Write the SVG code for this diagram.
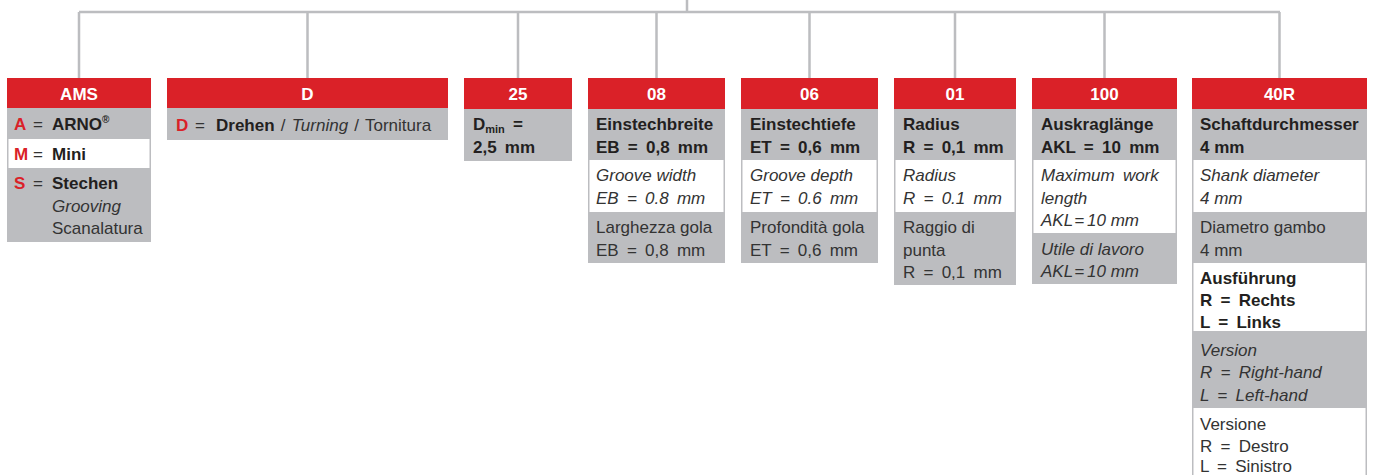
<svg xmlns="http://www.w3.org/2000/svg" width="1375" height="475" viewBox="0 0 1375 475">
<style>
.hd{fill:#da2128}
.gb{fill:#bcbdc0}
.wr{fill:#ffffff}
text{font-family:"Liberation Sans",Arial,sans-serif;font-size:17px;fill:#333333}
.b{font-weight:bold;fill:#231f20}
.i{font-style:italic}
.eq{word-spacing:3.5px}
.rc{font-weight:bold;fill:#da2128}
.ht{font-weight:bold;fill:#ffffff;text-anchor:middle}
.sm{font-size:11px}
.conn{stroke:#bcbdc0;stroke-width:2.5;fill:none}
</style>
<g id="connectors" class="conn">
<path d="M687 0V12M79 12H1280M79 12V78M307.5 12V78M518 12V78M656.5 12V78M809.5 12V78M955 12V78M1104.5 12V78M1279.5 12V78"/>
</g>
<g id="node-AMS">
<rect class="hd" x="7" y="78" width="144" height="30"/>
<text class="ht" x="79" y="100">AMS</text>
<rect class="gb" x="7" y="108" width="144" height="134"/>
<rect class="wr" x="8.5" y="139" width="141" height="29"/>
<text x="14" y="130"><tspan class="rc">A</tspan><tspan x="33">=</tspan><tspan x="52" class="b">ARNO</tspan><tspan class="b" font-size="10" dy="-7">®</tspan></text>
<text x="14" y="160"><tspan class="rc">M</tspan><tspan x="33">=</tspan><tspan x="52" class="b">Mini</tspan></text>
<text x="14" y="189"><tspan class="rc">S</tspan><tspan x="33">=</tspan><tspan x="52" class="b">Stechen</tspan></text>
<text class="i" x="52" y="211.5">Grooving</text>
<text x="52" y="234">Scanalatura</text>
</g>
<g id="node-D">
<rect class="hd" x="167" y="78" width="281" height="30"/>
<text class="ht" x="307.5" y="100">D</text>
<rect class="gb" x="167" y="108" width="281" height="32"/>
<text x="176" y="131" word-spacing="1.5"><tspan class="rc">D</tspan><tspan x="195">=</tspan><tspan x="216" class="b">Drehen</tspan> / <tspan class="i">Turning</tspan> / Tornitura</text>
</g>
<g id="node-25">
<rect class="hd" x="464" y="78" width="108" height="31"/>
<text class="ht" x="518" y="100">25</text>
<rect class="gb" x="464" y="109" width="108" height="52"/>
<text class="b" x="473" y="130">D<tspan class="sm" dy="3">min</tspan><tspan x="513" dy="-3">=</tspan></text>
<text class="b eq" x="473" y="152.5">2,5 mm</text>
</g>
<g id="node-08">
<rect class="hd" x="588" y="78" width="137" height="31"/>
<text class="ht" x="656.5" y="100">08</text>
<rect class="gb" x="588" y="109" width="137" height="154"/>
<rect class="wr" x="589.5" y="160" width="134" height="52"/>
<text class="b" x="596" y="130">Einstechbreite</text>
<text class="b eq" x="596" y="152.5">EB = 0,8 mm</text>
<text class="i" x="596" y="181">Groove width</text>
<text class="i eq" x="596" y="203.5">EB = 0.8 mm</text>
<text x="596" y="233">Larghezza gola</text>
<text class="eq" x="596" y="255.5">EB = 0,8 mm</text>
</g>
<g id="node-06">
<rect class="hd" x="741" y="78" width="137" height="31"/>
<text class="ht" x="809.5" y="100">06</text>
<rect class="gb" x="741" y="109" width="137" height="154"/>
<rect class="wr" x="742.5" y="160" width="134" height="52"/>
<text class="b" x="750" y="130">Einstechtiefe</text>
<text class="b eq" x="750" y="152.5">ET = 0,6 mm</text>
<text class="i" x="750" y="181">Groove depth</text>
<text class="i eq" x="750" y="203.5">ET = 0.6 mm</text>
<text x="750" y="233">Profondità gola</text>
<text class="eq" x="750" y="255.5">ET = 0,6 mm</text>
</g>
<g id="node-01">
<rect class="hd" x="894" y="78" width="122" height="31"/>
<text class="ht" x="955" y="100">01</text>
<rect class="gb" x="894" y="109" width="122" height="176"/>
<rect class="wr" x="895.5" y="160" width="119" height="52"/>
<text class="b" x="903" y="130">Radius</text>
<text class="b eq" x="903" y="152.5">R = 0,1 mm</text>
<text class="i" x="903" y="181">Radius</text>
<text class="i eq" x="903" y="203.5">R = 0.1 mm</text>
<text x="903" y="233">Raggio di</text>
<text x="903" y="255.5">punta</text>
<text class="eq" x="903" y="278">R = 0,1 mm</text>
</g>
<g id="node-100">
<rect class="hd" x="1032" y="78" width="145" height="31"/>
<text class="ht" x="1104.5" y="100">100</text>
<rect class="gb" x="1032" y="109" width="145" height="175"/>
<rect class="wr" x="1033.5" y="160" width="142" height="73"/>
<text class="b" x="1041" y="130">Auskraglänge</text>
<text class="b eq" x="1041" y="152.5">AKL = 10 mm</text>
<text class="i eq" x="1041" y="181">Maximum work</text>
<text class="i" x="1041" y="203.5">length</text>
<text class="i" x="1041" y="226">AKL<tspan dx="1">=</tspan><tspan dx="3">10 mm</tspan></text>
<text class="i" x="1041" y="254.5">Utile di lavoro</text>
<text class="i" x="1041" y="277">AKL<tspan dx="1">=</tspan><tspan dx="3">10 mm</tspan></text>
</g>
<g id="node-40R">
<rect class="hd" x="1192" y="78" width="175" height="31"/>
<text class="ht" x="1279.5" y="100">40R</text>
<rect class="gb" x="1192" y="109" width="175" height="370"/>
<rect class="wr" x="1193.5" y="160" width="172" height="52"/>
<rect class="wr" x="1193.5" y="263" width="172" height="68"/>
<rect class="wr" x="1193.5" y="408" width="172" height="70"/>
<text class="b" x="1200" y="130">Schaftdurchmesser</text>
<text class="b" x="1200" y="152.5">4 mm</text>
<text class="i" x="1200" y="181">Shank diameter</text>
<text class="i" x="1200" y="203.5">4 mm</text>
<text x="1200" y="233">Diametro gambo</text>
<text x="1200" y="255.5">4 mm</text>
<text class="b" x="1200" y="283.5">Ausführung</text>
<text class="b eq" x="1200" y="306">R = Rechts</text>
<text class="b eq" x="1200" y="328">L = Links</text>
<text class="i" x="1200" y="355.5">Version</text>
<text class="i eq" x="1200" y="378">R = Right-hand</text>
<text class="i eq" x="1200" y="400.5">L = Left-hand</text>
<text x="1200" y="429.5">Versione</text>
<text class="eq" x="1200" y="451.5">R = Destro</text>
<text class="eq" x="1200" y="472">L = Sinistro</text>
</g>
</svg>
